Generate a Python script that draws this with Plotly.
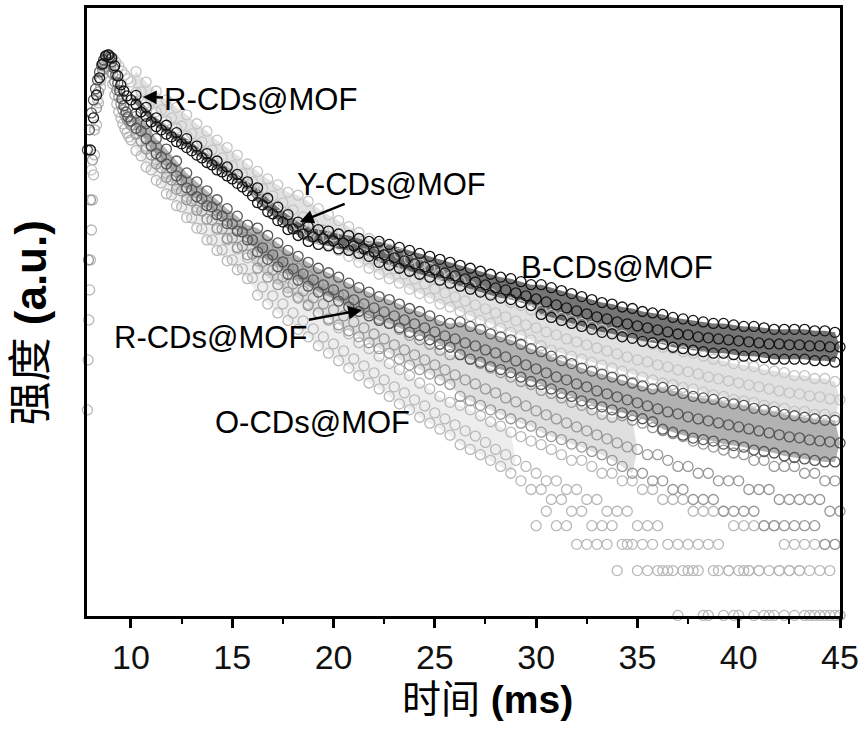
import plotly.graph_objects as go

# ---------------- data (intensity stored as log10 of counts) ----------------
t_mid = [10.0, 10.5, 11.0, 11.5, 12.0, 12.5, 13.0, 13.5, 14.0, 14.5,
         15.0, 15.5, 16.0, 16.5, 17.0, 17.5, 18.0, 18.5, 19.0, 19.5,
         20.0, 20.5, 21.0, 21.5, 22.0, 22.5, 23.0, 23.5, 24.0, 24.5,
         25.0, 25.5, 26.0, 26.5, 27.0, 27.5, 28.0, 28.5, 29.0, 29.5,
         30.0, 30.5, 31.0, 31.5, 32.0, 32.5, 33.0, 33.5, 34.0, 34.5,
         35.0, 35.5, 36.0, 36.5, 37.0, 37.5, 38.0, 38.5, 39.0, 39.5,
         40.0, 40.5, 41.0, 41.5, 42.0, 42.5, 43.0, 43.5, 44.0, 44.5,
         45.0]
t_off = [10.25, 10.75, 11.25, 11.75, 12.25, 12.75, 13.25, 13.75, 14.25, 14.75,
         15.25, 15.75, 16.25, 16.75, 17.25, 17.75, 18.25, 18.75, 19.25, 19.75,
         20.25, 20.75, 21.25, 21.75, 22.25, 22.75, 23.25, 23.75, 24.25, 24.75,
         25.25, 25.75, 26.25, 26.75, 27.25, 27.75, 28.25, 28.75, 29.25, 29.75,
         30.25, 30.75, 31.25, 31.75, 32.25, 32.75, 33.25, 33.75, 34.25, 34.75,
         35.25, 35.75, 36.25, 36.75, 37.25, 37.75, 38.25, 38.75, 39.25, 39.75,
         40.25, 40.75, 41.25, 41.75, 42.25, 42.75, 43.25, 43.75, 44.25, 44.75]
t_tail = [30.0, 30.5, 31.0, 31.5, 32.0, 32.5, 33.0, 33.5, 34.0, 34.5,
          35.0, 35.5, 36.0, 36.5, 37.0, 37.5, 38.0, 38.5, 39.0, 39.5,
          40.0, 40.5, 41.0, 41.5, 42.0, 42.5, 43.0, 43.5, 44.0, 44.5,
          45.0]

# B-CDs@MOF (black)
b_early_t = [8.0, 8.15, 8.3, 8.45, 8.6, 8.75, 8.9, 9.05, 9.2, 9.35, 9.5, 9.65, 9.8]
b_early = [3.124, 3.339, 3.493, 3.608, 3.701, 3.755, 3.762, 3.742, 3.688, 3.621, 3.561, 3.520, 3.487]
b_mid = [3.460, 3.379, 3.312, 3.259, 3.212, 3.165, 3.118, 3.071, 3.024, 2.977,
         2.930, 2.876, 2.816, 2.755, 2.695, 2.641, 2.594, 2.561, 2.541, 2.527,
         2.514, 2.500, 2.480, 2.460, 2.440, 2.420, 2.400, 2.379, 2.359, 2.339,
         2.319, 2.299, 2.279, 2.259, 2.238, 2.218, 2.198, 2.185, 2.165, 2.145,
         2.124, 2.104, 2.084, 2.064, 2.044, 2.024, 2.004, 1.990, 1.970, 1.957,
         1.943, 1.930, 1.916, 1.903, 1.889, 1.883, 1.869, 1.863, 1.856, 1.849,
         1.843, 1.836, 1.829, 1.822, 1.822, 1.816, 1.816, 1.809, 1.809, 1.802,
         1.802]
b_hi = [3.49, 3.41, 3.34, 3.29, 3.24, 3.20, 3.15, 3.10, 3.05, 3.01,
        2.96, 2.91, 2.87, 2.80, 2.74, 2.69, 2.64, 2.61, 2.59, 2.58,
        2.56, 2.55, 2.53, 2.51, 2.51, 2.49, 2.47, 2.45, 2.43, 2.41,
        2.39, 2.37, 2.35, 2.33, 2.31, 2.29, 2.27, 2.26, 2.24, 2.22,
        2.22, 2.20, 2.18, 2.16, 2.14, 2.12, 2.10, 2.09, 2.07, 2.06,
        2.04, 2.03, 2.02, 2.00, 1.99, 1.98, 1.97, 1.96, 1.96, 1.95,
        1.94, 1.94, 1.93, 1.92, 1.92, 1.92, 1.92, 1.91, 1.91, 1.90]
b_lo = [3.43, 3.35, 3.28, 3.23, 3.18, 3.14, 3.09, 3.04, 2.99, 2.95,
        2.90, 2.85, 2.77, 2.71, 2.65, 2.59, 2.55, 2.51, 2.49, 2.48,
        2.46, 2.45, 2.43, 2.41, 2.37, 2.35, 2.33, 2.31, 2.29, 2.27,
        2.25, 2.23, 2.21, 2.19, 2.17, 2.15, 2.13, 2.12, 2.10, 2.08,
        2.02, 2.00, 1.98, 1.96, 1.94, 1.92, 1.90, 1.89, 1.87, 1.86,
        1.84, 1.83, 1.82, 1.80, 1.79, 1.78, 1.77, 1.76, 1.76, 1.75,
        1.74, 1.74, 1.73, 1.72, 1.72, 1.72, 1.72, 1.71, 1.71, 1.70]

# Y-CDs@MOF (light grey)
y_early_t = [8.05, 8.2, 8.35, 8.5, 8.65, 8.8, 8.95, 9.1, 9.25, 9.4, 9.55, 9.7, 9.85]
y_early = [2.990, 3.259, 3.460, 3.594, 3.688, 3.742, 3.755, 3.742, 3.715, 3.688, 3.654, 3.628, 3.601]
y_mid = [3.581, 3.514, 3.453, 3.393, 3.339, 3.285, 3.232, 3.178, 3.124, 3.071,
         3.017, 2.963, 2.910, 2.863, 2.816, 2.769, 2.722, 2.675, 2.628, 2.587,
         2.547, 2.507, 2.467, 2.426, 2.393, 2.359, 2.326, 2.292, 2.259, 2.225,
         2.192, 2.165, 2.138, 2.111, 2.084, 2.057, 2.030, 2.004, 1.977, 1.950,
         1.930, 1.903, 1.883, 1.856, 1.836, 1.816, 1.795, 1.775, 1.755, 1.735,
         1.715, 1.702, 1.681, 1.668, 1.648, 1.635, 1.621, 1.601, 1.588, 1.574,
         1.561, 1.547, 1.534, 1.520, 1.507, 1.494, 1.487, 1.473, 1.467, 1.453,
         1.447]
y_hi = [3.65, 3.58, 3.52, 3.46, 3.41, 3.36, 3.30, 3.25, 3.19, 3.14,
        3.09, 3.03, 2.98, 2.93, 2.89, 2.84, 2.82, 2.78, 2.73, 2.69,
        2.65, 2.61, 2.57, 2.53, 2.49, 2.46, 2.43, 2.39, 2.36, 2.33,
        2.29, 2.27, 2.24, 2.21, 2.18, 2.16, 2.13, 2.10, 2.08, 2.05,
        2.05, 2.02, 2.00, 1.98, 1.96, 1.94, 1.92, 1.90, 1.88, 1.86,
        1.84, 1.82, 1.80, 1.79, 1.77, 1.76, 1.74, 1.72, 1.71, 1.69,
        1.68, 1.67, 1.65, 1.64, 1.63, 1.61, 1.61, 1.59, 1.59, 1.57]
y_lo = [3.51, 3.44, 3.38, 3.32, 3.27, 3.22, 3.16, 3.11, 3.05, 3.00,
        2.95, 2.89, 2.84, 2.79, 2.75, 2.70, 2.62, 2.58, 2.53, 2.49,
        2.45, 2.41, 2.37, 2.33, 2.29, 2.26, 2.23, 2.19, 2.16, 2.13,
        2.09, 2.07, 2.04, 2.01, 1.98, 1.96, 1.93, 1.90, 1.88, 1.85,
        1.81, 1.78, 1.76, 1.74, 1.72, 1.70, 1.68, 1.66, 1.64, 1.62,
        1.60, 1.58, 1.56, 1.55, 1.53, 1.52, 1.50, 1.48, 1.47, 1.45,
        1.44, 1.43, 1.41, 1.40, 1.39, 1.37, 1.37, 1.35, 1.35, 1.33]

# R-CDs@MOF (dark grey)
r_early_t = [7.85, 7.95, 8.05, 8.15, 8.25, 8.35, 8.45, 8.55, 8.65, 8.75, 8.85,
             8.95, 9.05, 9.15, 9.25, 9.35, 9.45, 9.55, 9.65, 9.75, 9.85]
r_early = [3.124, 3.259, 3.373, 3.460, 3.534, 3.594, 3.648, 3.695, 3.728, 3.755, 3.762,
           3.748, 3.715, 3.675, 3.628, 3.574, 3.520, 3.467, 3.420, 3.379, 3.346]
r_mid = [3.319, 3.252, 3.151, 3.077, 3.004, 2.923, 2.856, 2.796, 2.742, 2.681,
         2.628, 2.574, 2.520, 2.467, 2.420, 2.373, 2.326, 2.292, 2.252, 2.218,
         2.185, 2.151, 2.118, 2.091, 2.064, 2.037, 2.010, 1.983, 1.957, 1.930,
         1.903, 1.876, 1.856, 1.829, 1.809, 1.782, 1.762, 1.735, 1.708, 1.681,
         1.655, 1.628, 1.601, 1.581, 1.554, 1.534, 1.507, 1.487, 1.467, 1.447,
         1.427, 1.406, 1.386, 1.366, 1.353, 1.333, 1.319, 1.306, 1.292, 1.279,
         1.265, 1.252, 1.238, 1.225, 1.212, 1.198, 1.192, 1.178, 1.171, 1.165,
         1.158]
r_hi = [3.37, 3.30, 3.20, 3.13, 3.05, 2.97, 2.91, 2.85, 2.79, 2.73,
        2.68, 2.62, 2.60, 2.55, 2.50, 2.45, 2.41, 2.37, 2.33, 2.30,
        2.27, 2.23, 2.20, 2.17, 2.14, 2.12, 2.09, 2.06, 2.04, 2.01,
        1.98, 1.96, 1.97, 1.94, 1.92, 1.89, 1.87, 1.85, 1.82, 1.79,
        1.77, 1.74, 1.71, 1.69, 1.66, 1.64, 1.62, 1.60, 1.58, 1.56,
        1.54, 1.52, 1.53, 1.51, 1.49, 1.47, 1.46, 1.45, 1.43, 1.42,
        1.41, 1.39, 1.38, 1.37, 1.35, 1.34, 1.33, 1.32, 1.31, 1.31]
r_lo = [3.27, 3.20, 3.10, 3.03, 2.95, 2.87, 2.81, 2.75, 2.69, 2.63,
        2.58, 2.52, 2.44, 2.39, 2.34, 2.29, 2.25, 2.21, 2.17, 2.14,
        2.11, 2.07, 2.04, 2.01, 1.98, 1.96, 1.93, 1.90, 1.88, 1.85,
        1.82, 1.80, 1.75, 1.72, 1.70, 1.67, 1.65, 1.63, 1.60, 1.57,
        1.55, 1.52, 1.49, 1.47, 1.44, 1.42, 1.40, 1.38, 1.36, 1.34,
        1.32, 1.30, 1.25, 1.23, 1.21, 1.19, 1.18, 1.17, 1.15, 1.14,
        1.13, 1.11, 1.10, 1.09, 1.07, 1.06, 1.05, 1.04, 1.03, 1.03]

# O-CDs@MOF (medium grey)
o_early_t = [7.9, 8.0, 8.1, 8.2, 8.3, 8.4, 8.5, 8.6, 8.7, 8.8, 8.9,
             9.0, 9.1, 9.2, 9.3, 9.4, 9.5, 9.6, 9.7, 9.8, 9.9]
o_early = [2.386, 2.789, 3.057, 3.259, 3.406, 3.514, 3.594, 3.661, 3.708, 3.735, 3.728,
           3.688, 3.634, 3.581, 3.527, 3.480, 3.433, 3.393, 3.359, 3.332, 3.312]
o_mid = [3.292, 3.185, 3.091, 3.004, 2.923, 2.849, 2.782, 2.715, 2.655, 2.594,
         2.534, 2.480, 2.426, 2.373, 2.319, 2.272, 2.225, 2.178, 2.131, 2.091,
         2.051, 2.010, 1.970, 1.930, 1.889, 1.856, 1.816, 1.782, 1.749, 1.715,
         1.681, 1.648, 1.614, 1.581, 1.554, 1.520, 1.494, 1.460, 1.433, 1.406,
         1.373, 1.346, 1.319, 1.292, 1.265, 1.239, 1.212, 1.185, 1.158, 1.131,
         1.114, 1.079, 1.079, 1.041, 1.0, 1.0, 0.954, 0.954, 0.903, 0.903,
         0.903, 0.845, 0.845, 0.845, 0.778, 0.778, 0.778, 0.778, 0.778, 0.699,
         0.699]
o_hi = [3.35, 3.25, 3.15, 3.06, 2.98, 2.91, 2.84, 2.78, 2.72, 2.65,
        2.59, 2.54, 2.53, 2.47, 2.42, 2.37, 2.33, 2.28, 2.23, 2.19,
        2.15, 2.11, 2.07, 2.03, 1.99, 1.96, 1.92, 1.88, 1.85, 1.82,
        1.78, 1.75, 1.75, 1.72, 1.69, 1.66, 1.63, 1.60, 1.57, 1.55,
        1.51, 1.49, 1.46, 1.43, 1.41, 1.38, 1.35, 1.33, 1.34, 1.31,
        1.29, 1.26, 1.24, 1.22, 1.20, 1.17, 1.15, 1.13, 1.11, 1.09,
        1.079, 1.041, 1.041, 1.0, 1.0, 1.0, 0.954, 0.954, 0.903, 0.903]
o_lo = [3.23, 3.13, 3.03, 2.94, 2.86, 2.79, 2.72, 2.66, 2.60, 2.53,
        2.47, 2.42, 2.33, 2.27, 2.22, 2.17, 2.13, 2.08, 2.03, 1.99,
        1.95, 1.91, 1.87, 1.83, 1.79, 1.76, 1.72, 1.68, 1.65, 1.62,
        1.58, 1.55, 1.47, 1.44, 1.41, 1.38, 1.35, 1.32, 1.29, 1.27,
        1.23, 1.20, 1.18, 1.15, 1.13, 1.10, 1.079, 1.041, 1.0, 0.954,
        0.954, 0.903, 0.903, 0.845, 0.845, 0.778, 0.778, 0.778, 0.699, 0.699,
        0.699, 0.699, 0.602, 0.602, 0.602, 0.602, 0.602, 0.602, 0.477, 0.477]

# lowest, fastest-decaying light series
l_early_t = [7.85, 7.88, 7.92, 7.96, 8.0, 8.05, 8.1, 8.15, 8.2, 8.3, 8.4, 8.5, 8.6,
             8.7, 8.8, 8.9, 9.0, 9.1, 9.2, 9.3, 9.4, 9.5, 9.6, 9.7, 9.8, 9.9]
l_early = [1.379, 1.715, 1.983, 2.185, 2.386, 2.587, 2.789, 2.957, 3.091, 3.292, 3.440, 3.547, 3.628,
           3.681, 3.708, 3.701, 3.648, 3.567, 3.493, 3.433, 3.379, 3.339, 3.299, 3.265, 3.238, 3.212]
l_mid = [3.191, 3.084, 2.990, 2.903, 2.822, 2.742, 2.668, 2.594, 2.520, 2.453,
         2.386, 2.326, 2.265, 2.205, 2.145, 2.091, 2.030, 1.977, 1.923, 1.869,
         1.822, 1.775, 1.722, 1.675, 1.628, 1.581, 1.534, 1.494, 1.447, 1.406,
         1.359, 1.319, 1.279, 1.239, 1.204, 1.161, 1.114, 1.079, 1.041, 1.0,
         0.954, 0.903, 0.903, 0.845, 0.845, 0.778, 0.778, 0.699, 0.699, 0.699,
         0.602, 0.602, 0.602, 0.477, 0.477, 0.477, 0.477, 0.477, 0.477, 0.301,
         0.301, 0.301, 0.301, 0.301, 0.301, 0.301, 0.301, 0.301, 0.0, 0.0,
         0.0]
l_hi = [3.26, 3.15, 3.06, 2.97, 2.89, 2.81, 2.74, 2.66, 2.59, 2.52,
        2.46, 2.40, 2.38, 2.32, 2.26, 2.20, 2.14, 2.09, 2.03, 1.98,
        1.93, 1.89, 1.83, 1.79, 1.74, 1.69, 1.65, 1.61, 1.56, 1.52,
        1.47, 1.43, 1.41, 1.38, 1.34, 1.30, 1.27, 1.23, 1.20, 1.17,
        1.146, 1.114, 1.079, 1.041, 1.041, 1.0, 0.954, 0.954, 0.903, 0.903,
        0.845, 0.845, 0.778, 0.778, 0.778, 0.699, 0.699, 0.699, 0.699, 0.602,
        0.602, 0.602, 0.602, 0.602, 0.477, 0.477, 0.477, 0.477, 0.477, 0.477]
l_lo = [3.12, 3.01, 2.92, 2.83, 2.75, 2.67, 2.60, 2.52, 2.45, 2.38,
        2.32, 2.26, 2.15, 2.09, 2.03, 1.98, 1.92, 1.87, 1.81, 1.76,
        1.71, 1.66, 1.61, 1.56, 1.52, 1.47, 1.42, 1.38, 1.33, 1.29,
        1.25, 1.21, 1.146, 1.114, 1.079, 1.041, 1.0, 0.954, 0.903, 0.845,
        0.845, 0.778, 0.778, 0.699, 0.699, 0.602, 0.602, 0.602, 0.477, 0.477,
        0.477, 0.477, 0.301, 0.301, 0.301, 0.301, 0.0, 0.301, 0.0, 0.0,
        0.301, 0.0, 0.0, 0.0, 0.0, 0.0, 0.0, 0.0, 0.0, 0.0]
l_tail = [0.602, 0.699, 0.602, 0.602, 0.477, 0.477, 0.477, 0.477, 0.301, 0.477,
          0.301, 0.301, 0.301, 0.301, 0.0, 0.301, 0.301, 0.0, 0.301, 0.301,
          0.0, 0.301, 0.301, 0.0, 0.301, 0.301, 0.301, 0.0, 0.301, 0.301,
          0.0]

x_ticks = [10, 15, 20, 25, 30, 35, 40, 45]

# ---------------- figure ----------------
fig = go.Figure()

# (name, marker colour, band fill colour, rows, (mid, hi, lo), number of hi/lo samples shaded)
series = [
    ("lowest", "#b8b8b8", "rgba(190,190,190,0.28)",
     [(l_early_t, l_early), (t_mid, l_mid), (t_off, l_hi), (t_off, l_lo), (t_tail, l_tail)],
     (l_mid, l_hi, l_lo), 38),
    ("O-CDs@MOF", "#979797", "rgba(150,150,150,0.30)",
     [(o_early_t, o_early), (t_mid, o_mid), (t_off, o_hi), (t_off, o_lo)],
     (o_mid, o_hi, o_lo), 50),
    ("Y-CDs@MOF", "#c4c4c4", "rgba(200,200,200,0.55)",
     [(y_early_t, y_early), (t_mid, y_mid), (t_off, y_hi), (t_off, y_lo)],
     (y_mid, y_hi, y_lo), 70),
    ("R-CDs@MOF", "#555555", "rgba(85,85,85,0.45)",
     [(r_early_t, r_early), (t_mid, r_mid), (t_off, r_hi), (t_off, r_lo)],
     (r_mid, r_hi, r_lo), 70),
    ("B-CDs@MOF", "#141414", "rgba(25,25,25,0.60)",
     [(b_early_t, b_early), (t_mid, b_mid), (t_off, b_hi), (t_off, b_lo)],
     (b_mid, b_hi, b_lo), 70),
]

# shaded envelope of each cloud: upper read-off edge, closing on the centre value, back along the lower edge
for name, color, fill, rows, (mid, hi, lo), n in series:
    xs = [t_mid[0]] + t_off[:n] + [t_mid[n]] + t_off[:n][::-1]
    ys = ([10 ** mid[0]] + [10 ** v for v in hi[:n]] + [10 ** mid[n]]
          + [10 ** v for v in lo[:n][::-1]])
    fig.add_trace(go.Scatter(
        x=xs, y=ys, mode="lines", fill="toself", fillcolor=fill,
        line=dict(width=0), showlegend=False, hoverinfo="skip",
    ))

# the open-circle data points
for name, color, fill, rows, _, _ in series:
    xs, ys = [], []
    for tt, vv in rows:
        k = min(len(tt), len(vv))
        xs += list(tt[:k])
        ys += [10 ** v for v in vv[:k]]
    fig.add_trace(go.Scatter(
        x=xs, y=ys, mode="markers", name=name, showlegend=False,
        cliponaxis=False, hoverinfo="skip",
        marker=dict(symbol="circle-open", size=10, color=color, line=dict(width=1.3)),
    ))

lab_font = dict(family="Liberation Sans, Arial, sans-serif", size=31, color="black")
arrow = dict(showarrow=True, arrowhead=2, arrowsize=1.1, arrowwidth=2.5, arrowcolor="black")

fig.add_annotation(x=10.59, y=3.48, text="R-CDs@MOF", ax=118, ay=3, font=lab_font, **arrow)
fig.add_annotation(x=18.34, y=2.641, text="Y-CDs@MOF", ax=92, ay=-37, font=lab_font, **arrow)
fig.add_annotation(x=21.4, y=2.05, text="R-CDs@MOF", ax=-151, ay=28, font=lab_font, **arrow)
fig.add_annotation(x=33.99, y=2.332, text="B-CDs@MOF", showarrow=False, font=lab_font)
fig.add_annotation(x=18.94, y=1.292, text="O-CDs@MOF", showarrow=False, font=lab_font)

fig.add_annotation(xref="paper", yref="paper", x=0.5325, y=-0.137, text="时间 <b>(ms)</b>",
                   showarrow=False, xanchor="center", yanchor="middle",
                   font=dict(family="Liberation Sans, Noto Sans CJK SC, sans-serif", size=39, color="black"))
fig.add_annotation(xref="paper", yref="paper", x=-0.075, y=0.482, text="强度 <b>(a.u.)</b>",
                   showarrow=False, textangle=-90, xanchor="center", yanchor="middle",
                   font=dict(family="Liberation Sans, Noto Sans CJK SC, sans-serif", size=44, color="black"))

fig.update_layout(
    width=865, height=731,
    margin=dict(l=87, r=25, t=8, b=115),
    paper_bgcolor="white", plot_bgcolor="white",
    xaxis=dict(
        range=[7.83, 45], tickmode="array", tickvals=x_ticks, automargin=False,
        ticks="outside", ticklen=9, tickwidth=2.5, tickcolor="black",
        showline=True, linewidth=2.5, linecolor="black", mirror=True,
        showgrid=False, zeroline=False,
        tickfont=dict(family="Liberation Sans, Arial, sans-serif", size=34, color="#111"),
        minor=dict(ticks="outside", ticklen=5, tickwidth=2, tickcolor="black",
                   tickmode="linear", tick0=7.5, dtick=2.5, showgrid=False),
    ),
    yaxis=dict(
        type="log", range=[-0.004, 4.077], automargin=False,
        showticklabels=False, ticks="",
        showline=True, linewidth=2.5, linecolor="black", mirror=True,
        showgrid=False, zeroline=False,
    ),
)

fig.write_html(
    "out.html",
    config={"displayModeBar": False},
    post_script="document.body.style.margin='0';document.body.style.padding='0';",
)
